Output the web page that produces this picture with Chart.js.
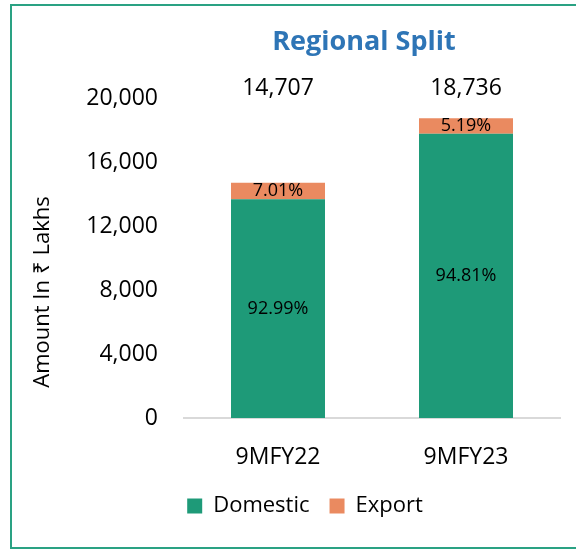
<!DOCTYPE html>
<html lang="en">

<head>
    <meta charset="UTF-8">
    <title>Regional Split</title>
    <script src="https://cdn.jsdelivr.net/npm/chart.js@4.4.0/dist/chart.umd.min.js"></script>
    <style>
        html, body { margin: 0; padding: 0; overflow: hidden; background: #fff; }
        #frame {
            position: absolute; left: 10px; top: 4px; width: 620px; height: 541px;
            border: 2.5px solid #2aa283; border-right: none;
        }
        #wrap { position: absolute; left: 0; top: 0; width: 576px; height: 549px; }
    </style>
</head>

<body>
    <div id="frame"></div>
    <div id="wrap"><canvas id="myChart"></canvas></div>

    <script>
        // data
        const periods = ['9MFY22', '9MFY23'];
        const domestic = [13676, 17764];
        const exportAmt = [1031, 972];
        const domesticPct = ['92.99%', '94.81%'];
        const exportPct = ['7.01%', '5.19%'];
        const yTicks = [0, 4000, 8000, 12000, 16000, 20000];

        const FONT = "'Open Sans', sans-serif";

        // labels, totals and titles drawn on top of the bars
        const labelPlugin = {
            id: 'labels',
            afterDatasetsDraw(chart) {
                const ctx = chart.ctx;
                ctx.save();
                ctx.fillStyle = '#000';
                ctx.textAlign = 'center';
                ctx.textBaseline = 'middle';
                ctx.font = '18px ' + FONT;
                const pcts = [domesticPct, exportPct];
                chart.data.datasets.forEach((ds, i) => {
                    chart.getDatasetMeta(i).data.forEach((bar, j) => {
                        const p = bar.getProps(['x', 'y', 'base'], true);
                        ctx.fillText(pcts[i][j], p.x, (p.y + p.base) / 2);
                    });
                });

                // totals above the bars
                ctx.font = '23px ' + FONT;
                chart.getDatasetMeta(0).data.forEach((bar, j) => {
                    const total = domestic[j] + exportAmt[j];
                    ctx.fillText(total.toLocaleString('en-US'), bar.x, 88);
                });

                // chart title
                ctx.fillStyle = '#2e75b6';
                ctx.font = 'bold 27px ' + FONT;
                ctx.fillText('Regional Split', 364, 42);

                // y axis title
                ctx.fillStyle = '#000';
                ctx.font = '22px ' + FONT;
                ctx.translate(43, 292);
                ctx.rotate(-Math.PI / 2);
                ctx.fillText('Amount In ₹ Lakhs', 0, 0);
                ctx.restore();
            }
        };

        const ctx = document.getElementById('myChart').getContext('2d');
        const myChart = new Chart(ctx, {
            type: 'bar',
            data: {
                labels: periods,
                datasets: [{
                    label: 'Domestic',
                    data: domestic,
                    backgroundColor: '#1e9a78'
                }, {
                    label: 'Export',
                    data: exportAmt,
                    backgroundColor: '#ea8a60'
                }]
            },
            options: {
                responsive: true,
                maintainAspectRatio: false,
                animation: false,
                categoryPercentage: 0.5,
                barPercentage: 1,
                layout: {
                    padding: { top: 98, left: 34, right: 0, bottom: 22 }
                },
                plugins: {
                    title: { display: false },
                    tooltip: { enabled: false },
                    legend: {
                        position: 'bottom',
                        labels: {
                            boxWidth: 15,
                            boxHeight: 15,
                            padding: 20,
                            color: '#000',
                            font: { family: FONT, size: 22 }
                        }
                    }
                },
                scales: {
                    x: {
                        stacked: true,
                        grid: { display: false },
                        border: { display: true, color: '#d9d9d9', width: 2 },
                        ticks: { color: '#000', padding: 18, font: { family: FONT, size: 23 } },
                        afterFit: (s) => { s.height = 57; }
                    },
                    y: {
                        stacked: true,
                        min: 0,
                        max: 20000,
                        grid: { display: false },
                        border: { display: false },
                        afterBuildTicks: (s) => { s.ticks = yTicks.map(v => ({ value: v })); },
                        ticks: {
                            color: '#000',
                            padding: 18,
                            font: { family: FONT, size: 23 },
                            callback: (v) => v.toLocaleString('en-US')
                        },
                        afterFit: (s) => { s.width = 150; }
                    },
                    y2: {
                        position: 'right',
                        grid: { display: false },
                        border: { display: false },
                        ticks: { display: false },
                        afterFit: (s) => { s.width = 16; }
                    }
                }
            },
            plugins: [labelPlugin]
        });
    </script>
</body>

</html>
